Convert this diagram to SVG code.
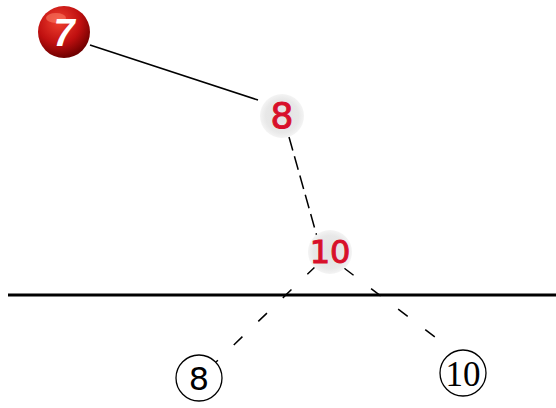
<svg xmlns="http://www.w3.org/2000/svg" width="556" height="408" viewBox="0 0 556 408">
<defs>
<radialGradient id="ball" cx="0.4" cy="0.3" r="0.7">
<stop offset="0" stop-color="#f04030"/>
<stop offset="0.6" stop-color="#c01010"/>
<stop offset="1" stop-color="#700000"/>
</radialGradient>
<radialGradient id="halo" cx="0.5" cy="0.5" r="0.5">
<stop offset="0" stop-color="#e2e2e2"/>
<stop offset="0.75" stop-color="#e8e8e8"/>
<stop offset="1" stop-color="#f4f4f4"/>
</radialGradient>
<style>
.edge{stroke:#000;stroke-width:1.5;fill:none}
.dash{stroke-dasharray:14 6}
.gap{stroke-dasharray:12 22}
.red{font-family:"DejaVu Sans",sans-serif;fill:#d8102a;stroke:#d8102a;stroke-width:1;text-anchor:middle}
.leaf{fill:#fff;stroke:#000;stroke-width:1.3}
.lt{fill:#000;text-anchor:middle}
</style>
</defs>
<rect width="556" height="408" fill="#fff"/>
<g id="connectors">
<line class="edge" x1="90" y1="45" x2="258" y2="100"/>
<line class="edge dash" x1="289" y1="137" x2="318" y2="240"/>
<line class="edge gap" x1="316" y1="266" x2="216" y2="362"/>
<line class="edge gap" x1="344" y1="268" x2="452" y2="350"/>
<line x1="8" y1="295" x2="556" y2="295" stroke="#000" stroke-width="3"/>
</g>
<g id="n7">
<circle cx="64" cy="32" r="26" fill="url(#ball)"/>
<ellipse cx="56" cy="18" rx="10" ry="5" fill="#ff8a70" opacity="0.5"/>
<text x="64" y="46" font-family="Liberation Sans,Arial,sans-serif" font-size="38" font-weight="bold" font-style="italic" fill="#fff" text-anchor="middle">7</text>
</g>
<g id="n8">
<circle cx="282" cy="116" r="22" fill="url(#halo)"/>
<text class="red" x="282" y="128" font-size="36">8</text>
</g>
<g id="n10">
<circle cx="330" cy="252" r="22" fill="url(#halo)"/>
<text class="red" x="330" y="263" font-size="32">10</text>
</g>
<g id="leaf8">
<circle class="leaf" cx="199" cy="378" r="23"/>
<text class="lt" x="199" y="390" font-size="32" font-family="DejaVu Sans,sans-serif">8</text>
</g>
<g id="leaf10">
<circle class="leaf" cx="463" cy="373" r="23"/>
<text class="lt" x="463" y="386" font-size="35" font-family="Liberation Serif,serif">10</text>
</g>
</svg>
